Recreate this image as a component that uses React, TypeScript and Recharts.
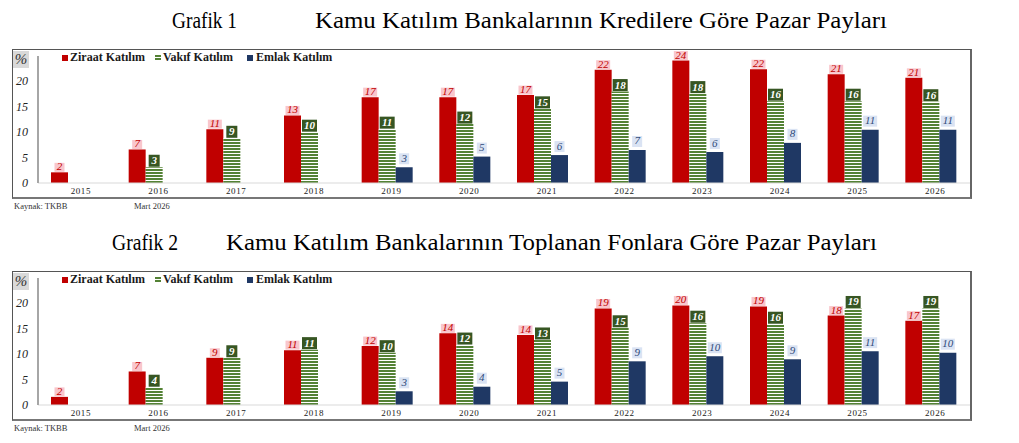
import React from 'react';
import { BarChart, Bar, XAxis, YAxis, LabelList } from 'recharts';

const years = ['2015', '2016', '2017', '2018', '2019', '2020', '2021', '2022', '2023', '2024', '2025', '2026'];

// Grafik 1 - Kredilere Göre Pazar Payları (%)
const krediZiraat = [2.1, 6.6, 10.6, 13.3, 16.9, 16.9, 17.3, 22.3, 24.1, 22.4, 21.4, 20.7];
const krediVakif = [null, 3.1, 8.8, 10.0, 10.6, 11.6, 14.6, 18.0, 17.6, 16.1, 16.1, 16.0];
const krediEmlak = [null, null, null, null, 3.1, 5.2, 5.5, 6.5, 6.1, 7.9, 10.5, 10.5];

// Grafik 2 - Toplanan Fonlara Göre Pazar Payları (%)
const fonZiraat = [1.6, 6.6, 9.3, 10.8, 11.6, 14.1, 13.8, 19.0, 19.6, 19.4, 17.6, 16.6];
const fonVakif = [null, 3.5, 9.3, 10.9, 10.3, 11.8, 12.8, 15.2, 16.1, 15.9, 19.0, 19.0];
const fonEmlak = [null, null, null, null, 2.7, 3.6, 4.6, 8.6, 9.6, 9.0, 10.6, 10.3];

const yTicks = [0, 5, 10, 15, 20, 25];
const seriesNames = ['Ziraat Katılım', 'Vakıf Katılım', 'Emlak Katılım'];

const RED = '#c00000';
const GREEN = '#548235';
const NAVY = '#1f3864';
const SERIF = '"Liberation Serif", "DejaVu Serif", serif';

function getBox(props: any) {
  const vb = props.viewBox || {};
  const x = props.x ?? vb.x;
  const y = props.y ?? vb.y;
  const width = props.width ?? vb.width;
  return { x: Number(x), y: Number(y), width: Number(width) };
}

const ZiraatLabel = (props: any) => {
  const { value } = props;
  if (value === null || value === undefined) return null;
  const { x, y, width } = getBox(props);
  const txt = String(Math.round(value));
  const w = txt.length > 1 ? 14 : 10;
  const h = 9;
  const cx = x + width / 2;
  const bottom = y - 0.5;
  return (
    <g>
      <rect x={cx - w / 2} y={bottom - h} width={w} height={h} fill="#f9c6cc" />
      <text x={cx} y={bottom - 1.5} textAnchor="middle" fontFamily={SERIF} fontStyle="italic" fontSize={11} fill={RED}>
        {txt}
      </text>
    </g>
  );
};

const VakifLabel = (props: any) => {
  const { value } = props;
  if (value === null || value === undefined) return null;
  const { x, y, width } = getBox(props);
  const txt = String(Math.round(value));
  const w = txt.length > 1 ? 15 : 11;
  const h = 12;
  const cx = x + width / 2;
  const bottom = y - 0.5;
  return (
    <g>
      <rect x={cx - w / 2} y={bottom - h} width={w} height={h} fill="#375623" />
      <text x={cx} y={bottom - 2.5} textAnchor="middle" fontFamily={SERIF} fontStyle="italic" fontWeight="bold" fontSize={11} fill="#ffffff">
        {txt}
      </text>
    </g>
  );
};

const EmlakLabel = (props: any) => {
  const { value } = props;
  if (value === null || value === undefined) return null;
  const { x, y, width } = getBox(props);
  const txt = String(Math.round(value));
  const w = txt.length > 1 ? 14 : 10;
  const h = 11;
  const cx = x + width / 2;
  const bottom = y - 3;
  return (
    <g>
      <rect x={cx - w / 2} y={bottom - h} width={w} height={h} fill="#dae3f3" />
      <text x={cx} y={bottom - 2.5} textAnchor="middle" fontFamily={SERIF} fontStyle="italic" fontSize={11} fill="#2f4a7a">
        {txt}
      </text>
    </g>
  );
};

const YTick = (props: any) => {
  const { x, y, payload } = props;
  if (payload.value === 25) {
    return (
      <g>
        <rect x={x - 15} y={y - 5} width={16} height={17} fill="#d9d9d9" />
        <text x={x - 7} y={y + 8} textAnchor="middle" fontFamily={SERIF} fontStyle="italic" fontSize={15} fill="#333333">
          %
        </text>
      </g>
    );
  }
  return (
    <text x={x} y={y + 4} textAnchor="end" fontFamily={SERIF} fontStyle="italic" fontSize={12} fill="#222222">
      {payload.value}
    </text>
  );
};

const XTick = (props: any) => {
  const { x, y, payload } = props;
  return (
    <text x={x + 4} y={y + 7} textAnchor="middle" fontFamily={SERIF} fontSize={9} letterSpacing={0.6} fill="#222222">
      {payload.value}
    </text>
  );
};

function LegendRow() {
  const item = (left: number, textLeft: number, marker: React.ReactNode, label: string) => (
    <>
      <div style={{ position: 'absolute', left, top: 5 }}>{marker}</div>
      <div
        style={{
          position: 'absolute',
          left: textLeft,
          top: 0,
          fontFamily: SERIF,
          fontWeight: 'bold',
          fontSize: 12,
          lineHeight: '14px',
          color: '#1a1a1a',
          whiteSpace: 'nowrap',
        }}
      >
        {label}
      </div>
    </>
  );
  const sq = (color: string) => <div style={{ width: 6, height: 6, background: color }} />;
  const striped = (
    <div
      style={{
        width: 6,
        height: 6,
        background: `repeating-linear-gradient(to bottom, ${GREEN} 0px, ${GREEN} 2px, #ffffff 2px, #ffffff 3px)`,
      }}
    />
  );
  return (
    <>
      {item(62, 70, sq(RED), seriesNames[0])}
      {item(155, 163, striped, seriesNames[1])}
      {item(247, 256, sq(NAVY), seriesNames[2])}
    </>
  );
}

function ChartBlock(props: {
  top: number;
  grafik: string;
  title: string;
  grafikX: number;
  grafikLen: number;
  titleX: number;
  titleLen: number;
  ziraat: (number | null)[];
  vakif: (number | null)[];
  emlak: (number | null)[];
}) {
  const { top, grafik, title, grafikX, grafikLen, titleX, titleLen, ziraat, vakif, emlak } = props;
  const data = years.map((year, i) => ({ year, ziraat: ziraat[i], vakif: vakif[i], emlak: emlak[i] }));
  return (
    <div style={{ position: 'absolute', left: 0, top, width: 1019, height: 222 }}>
      <svg width={1019} height={40} style={{ position: 'absolute', left: 0, top: 0 }}>
        <text x={grafikX} y={28} fontFamily={SERIF} fontSize={24} fill="#000" textLength={grafikLen} lengthAdjust="spacingAndGlyphs">
          {grafik}
        </text>
        <text x={titleX} y={28} fontFamily={SERIF} fontSize={24} fill="#000" textLength={titleLen} lengthAdjust="spacingAndGlyphs">
          {title}
        </text>
      </svg>
      <div
        style={{
          position: 'absolute',
          left: 12,
          top: 49,
          width: 960,
          height: 150,
          boxSizing: 'border-box',
          borderTop: '1.5px solid #555555',
          borderLeft: '1.5px solid #555555',
          borderRight: '2px solid #666666',
          borderBottom: '2px solid #777777',
        }}
      />
      <div style={{ position: 'absolute', left: 12, top: 49 }}>
        <BarChart
          width={960}
          height={150}
          data={data}
          margin={{ top: 7, right: 2, bottom: 0, left: 0 }}
          barGap={0}
          barSize={17}
          style={{ overflow: 'visible' }}
        >
          <XAxis
            dataKey="year"
            interval={0}
            tickLine={false}
            tickSize={0}
            tickMargin={4}
            height={16}
            axisLine={{ stroke: '#d9d9d9', strokeWidth: 1 }}
            tick={<XTick />}
          />
          <YAxis
            domain={[0, 25]}
            ticks={yTicks}
            interval={0}
            width={26}
            tickLine={false}
            tickSize={0}
            tickMargin={10}
            axisLine={{ stroke: '#a6a6a6', strokeWidth: 2 }}
            tick={<YTick />}
          />
          <Bar dataKey="ziraat" name={seriesNames[0]} fill={RED} isAnimationActive={false}>
            <LabelList dataKey="ziraat" content={<ZiraatLabel />} />
          </Bar>
          <Bar dataKey="vakif" name={seriesNames[1]} fill="url(#vakifStripes)" isAnimationActive={false}>
            <LabelList dataKey="vakif" content={<VakifLabel />} />
          </Bar>
          <Bar dataKey="emlak" name={seriesNames[2]} fill={NAVY} isAnimationActive={false}>
            <LabelList dataKey="emlak" content={<EmlakLabel />} />
          </Bar>
        </BarChart>
      </div>
      <div style={{ position: 'absolute', left: 0, top: 50 }}>
        <LegendRow />
      </div>
      <div
        style={{
          position: 'absolute',
          left: 14,
          top: 201,
          fontFamily: SERIF,
          fontSize: 8.5,
          color: '#333',
          whiteSpace: 'nowrap',
          lineHeight: '10px',
        }}
      >
        Kaynak: TKBB
      </div>
      <div
        style={{
          position: 'absolute',
          left: 134,
          top: 201,
          fontFamily: SERIF,
          fontSize: 8.5,
          color: '#333',
          whiteSpace: 'nowrap',
          lineHeight: '10px',
        }}
      >
        Mart 2026
      </div>
    </div>
  );
}

export default function App() {
  return (
    <div style={{ position: 'absolute', left: 0, top: 0, width: 1019, height: 443, background: '#ffffff', overflow: 'hidden' }}>
      <svg width={0} height={0} style={{ position: 'absolute' }}>
        <defs>
          <pattern id="vakifStripes" patternUnits="userSpaceOnUse" width={6} height={3}>
            <rect x={0} y={0} width={6} height={3} fill="#ffffff" />
            <rect x={0} y={0} width={6} height={2} fill={GREEN} />
          </pattern>
        </defs>
      </svg>
      <ChartBlock
        top={0}
        grafik="Grafik 1"
        title="Kamu Katılım Bankalarının Kredilere Göre Pazar Payları"
        grafikX={172}
        grafikLen={65}
        titleX={315}
        titleLen={572}
        ziraat={krediZiraat}
        vakif={krediVakif}
        emlak={krediEmlak}
      />
      <ChartBlock
        top={222}
        grafik="Grafik 2"
        title="Kamu Katılım Bankalarının Toplanan Fonlara Göre Pazar Payları"
        grafikX={112}
        grafikLen={66}
        titleX={226}
        titleLen={651}
        ziraat={fonZiraat}
        vakif={fonVakif}
        emlak={fonEmlak}
      />
    </div>
  );
}
